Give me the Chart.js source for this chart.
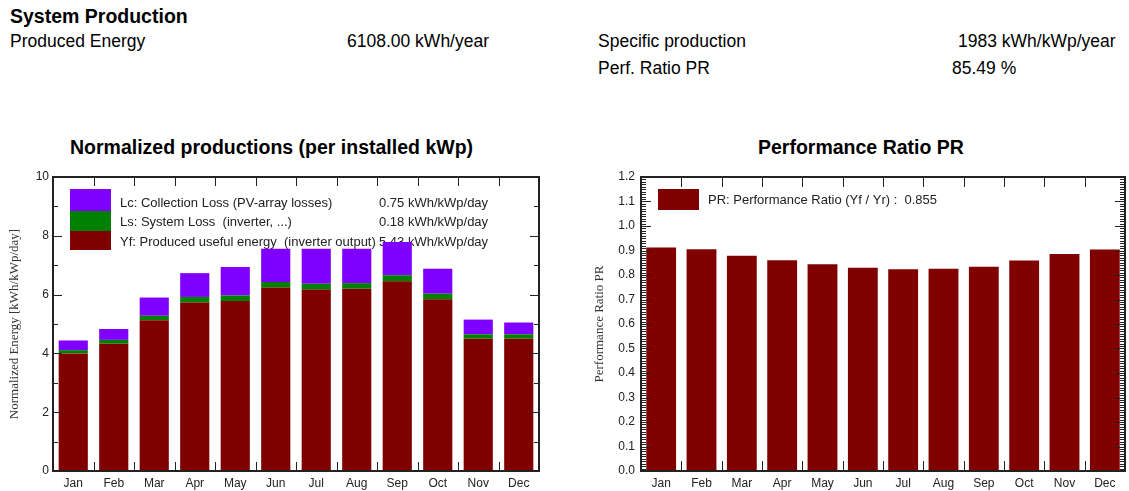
<!DOCTYPE html>
<html><head><meta charset="utf-8">
<script src="https://cdn.jsdelivr.net/npm/chart.js@4.4.1/dist/chart.umd.min.js"></script>
<style>
html,body{margin:0;padding:0;background:#fff;}
body{width:1129px;height:491px;position:relative;overflow:hidden;font-family:"Liberation Sans",Arial,sans-serif;color:#000;}
.t{position:absolute;white-space:nowrap;height:22px;line-height:22px;}
.cv{position:absolute;}
</style></head><body>
<div class="t" style="left:10px;top:5px;font-size:19.5px;font-weight:bold">System Production</div>
<div class="t" style="left:10px;top:30px;font-size:17.5px">Produced Energy</div>
<div class="t" style="left:347px;top:30px;font-size:17.5px">6108.00 kWh/year</div>
<div class="t" style="left:598px;top:30px;font-size:17.5px">Specific production</div>
<div class="t" style="left:958px;top:30px;font-size:17.5px">1983 kWh/kWp/year</div>
<div class="t" style="left:598px;top:57px;font-size:17.5px">Perf. Ratio PR</div>
<div class="t" style="left:952px;top:57px;font-size:17.5px">85.49 %</div>
<div class="t" style="left:70px;top:136px;font-size:19.5px;font-weight:bold">Normalized productions (per installed kWp)</div>
<div class="t" style="left:758px;top:136px;font-size:19.5px;font-weight:bold">Performance Ratio PR</div>
<div class="cv" style="left:0;top:160px;width:560px;height:331px"><canvas id="c1"></canvas></div>
<div class="cv" style="left:570px;top:160px;width:559px;height:331px"><canvas id="c2"></canvas></div>
<script>
// ---- data ----
const months = ['Jan','Feb','Mar','Apr','May','Jun','Jul','Aug','Sep','Oct','Nov','Dec'];
const yfValues = [4.00, 4.33, 5.13, 5.73, 5.78, 6.24, 6.17, 6.20, 6.45, 5.84, 4.50, 4.50];
const lsValues = [0.11, 0.13, 0.15, 0.19, 0.19, 0.19, 0.20, 0.19, 0.21, 0.19, 0.15, 0.15];
const lcValues = [0.33, 0.37, 0.62, 0.81, 0.97, 1.13, 1.19, 1.17, 1.13, 0.85, 0.50, 0.40];
const prValues = [0.912, 0.905, 0.879, 0.860, 0.844, 0.830, 0.823, 0.826, 0.834, 0.859, 0.886, 0.904];
const energyLegendLabels = ['Lc: Collection Loss (PV-array losses)', 'Ls: System Loss  (inverter, ...)', 'Yf: Produced useful energy  (inverter output)'];
const energyLegendValues = ['0.75 kWh/kWp/day', '0.18 kWh/kWp/day', '5.43 kWh/kWp/day'];
const prLegendLabel = 'PR: Performance Ratio (Yf / Yr) :  0.855';

const C_LC = '#8000ff', C_LS = '#008000', C_YF = '#800000';
const FONT = '"Liberation Sans", Arial, sans-serif';
const SERIF = '"Liberation Serif", "Times New Roman", serif';
const TXT = '#222';

function frameTicks(minorStep, majorStep, majorLen, minorLen, xLen){
  return {
    id:'frameTicks',
    afterDatasetsDraw(chart){
      const {ctx, chartArea:a, scales:{x, y}} = chart;
      ctx.save();
      ctx.strokeStyle = '#222';
      ctx.lineWidth = 1;
      ctx.beginPath();
      const n = chart.data.labels.length;
      for (let i = 0; i < n-1; i++){
        const px = Math.round((x.getPixelForValue(i) + x.getPixelForValue(i+1))/2) + 0.5;
        ctx.moveTo(px, a.bottom); ctx.lineTo(px, a.bottom - xLen);
        ctx.moveTo(px, a.top); ctx.lineTo(px, a.top + xLen);
      }
      const steps = Math.round((y.max - y.min)/minorStep);
      const ratio = Math.round(majorStep/minorStep);
      for (let k = 1; k < steps; k++){
        const v = y.min + k*minorStep;
        const py = Math.round(y.getPixelForValue(v)) + 0.5;
        const len = (k % ratio === 0) ? majorLen : minorLen;
        ctx.moveTo(a.left, py); ctx.lineTo(a.left + len, py);
        ctx.moveTo(a.right, py); ctx.lineTo(a.right - len, py);
      }
      ctx.stroke();
      ctx.lineWidth = 2;
      ctx.strokeRect(a.left, a.top, a.right - a.left, a.bottom - a.top);
      ctx.restore();
    }
  };
}

const energyLegend = {
  id:'energyLegend',
  beforeDatasetsDraw(chart){
    const ctx = chart.ctx;
    ctx.save();
    const sx = 70, sw = 41;
    ctx.fillStyle = C_LC; ctx.fillRect(sx, 29, sw, 22);
    ctx.fillStyle = C_LS; ctx.fillRect(sx, 51, sw, 20);
    ctx.fillStyle = C_YF; ctx.fillRect(sx, 71, sw, 19);
    ctx.fillStyle = TXT;
    ctx.font = '13px ' + FONT;
    ctx.textBaseline = 'middle';
    const ys = [43, 62, 82];
    energyLegendLabels.forEach((t,i)=>ctx.fillText(t, 120, ys[i]));
    energyLegendValues.forEach((t,i)=>ctx.fillText(t, 379, ys[i]));
    ctx.restore();
  }
};

const prLegend = {
  id:'prLegend',
  beforeDatasetsDraw(chart){
    const ctx = chart.ctx;
    ctx.save();
    ctx.fillStyle = C_YF; ctx.fillRect(88, 29, 41, 21);
    ctx.fillStyle = TXT;
    ctx.font = '13px ' + FONT;
    ctx.textBaseline = 'middle';
    ctx.fillText(prLegendLabel, 138, 40);
    ctx.restore();
  }
};

Chart.defaults.font.family = FONT;
Chart.defaults.color = TXT;

new Chart(document.getElementById('c1'), {
  type:'bar',
  data:{
    labels: months,
    datasets:[
      {label:'Yf', data: yfValues, backgroundColor: C_YF},
      {label:'Ls', data: lsValues, backgroundColor: C_LS},
      {label:'Lc', data: lcValues, backgroundColor: C_LC}
    ]
  },
  options:{
    responsive:true, maintainAspectRatio:false, animation:false,
    layout:{autoPadding:false, padding:{top:17, right:21, left:0, bottom:0}},
    datasets:{bar:{categoryPercentage:1, barPercentage:0.72, borderWidth:0}},
    plugins:{legend:{display:false}, tooltip:{enabled:false}},
    scales:{
      x:{stacked:true, grid:{display:false, drawTicks:false}, border:{display:false},
         ticks:{font:{size:12}, padding:5, color:TXT},
         afterFit(s){ s.height = 20; }},
      y:{stacked:true, min:0, max:10, grid:{display:false, drawTicks:false}, border:{display:false},
         ticks:{stepSize:2, font:{size:12}, padding:4, color:TXT},
         title:{display:true, text:'Normalized Energy [kWh/kWp/day]', font:{family:SERIF, size:13}, color:'#333', padding:{top:7, bottom:0}},
         afterFit(s){ s.width = 53; }}
    }
  },
  plugins:[energyLegend, frameTicks(1, 2, 9, 5, 9)]
});

new Chart(document.getElementById('c2'), {
  type:'bar',
  data:{
    labels: months,
    datasets:[{label:'PR', data: prValues, backgroundColor: C_YF}]
  },
  options:{
    responsive:true, maintainAspectRatio:false, animation:false,
    layout:{autoPadding:false, padding:{top:17, right:4, left:0, bottom:0}},
    datasets:{bar:{categoryPercentage:1, barPercentage:0.74, borderWidth:0}},
    plugins:{legend:{display:false}, tooltip:{enabled:false}},
    scales:{
      x:{grid:{display:false, drawTicks:false}, border:{display:false},
         ticks:{font:{size:12}, padding:5, color:TXT},
         afterFit(s){ s.height = 20; }},
      y:{min:0, max:1.2, grid:{display:false, drawTicks:false}, border:{display:false},
         ticks:{stepSize:0.1, font:{size:12}, padding:6, color:TXT, callback:(v)=>Number(v).toFixed(1)},
         title:{display:true, text:'Performance Ratio PR', font:{family:SERIF, size:13}, color:'#333', padding:{top:22, bottom:0}},
         afterFit(s){ s.width = 71; }}
    }
  },
  plugins:[prLegend, frameTicks(0.01, 0.1, 10, 5, 10)]
});
</script>
</body></html>
